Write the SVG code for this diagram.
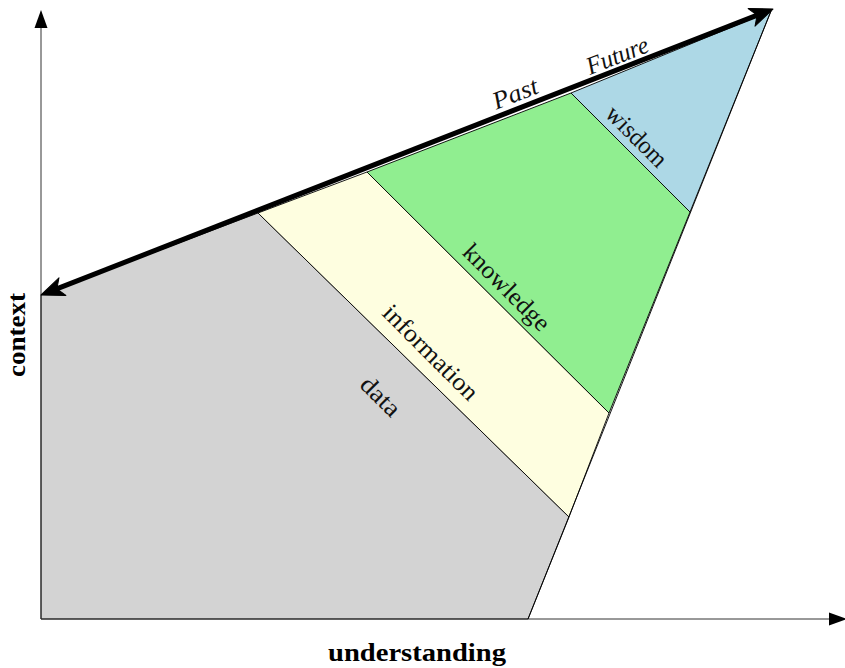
<svg xmlns="http://www.w3.org/2000/svg" width="845" height="668" viewBox="0 0 845 668">
<style>
.region{stroke:#000;stroke-width:0.9;stroke-linejoin:round}
.lbl{font-family:"Liberation Serif","Times New Roman",serif;font-size:25px;fill:#111;text-anchor:middle}
.it{font-style:italic}
.axl{font-family:"Liberation Serif","Times New Roman",serif;font-size:26px;font-weight:bold;fill:#000;text-anchor:middle}
.axis{stroke:#333;stroke-width:1;fill:none}
.time{stroke:#000;stroke-width:5;fill:none}
</style>
<defs>
<marker id="big" viewBox="-14 -12 28 24" markerWidth="28" markerHeight="24" refX="0" refY="0" markerUnits="userSpaceOnUse" orient="auto-start-reverse">
<path d="M12,0 L-11,-9.5 L-5,0 L-11,9.5 Z" fill="#000" stroke="#000" stroke-width="1" stroke-linejoin="round"/>
</marker>
<marker id="small" viewBox="-8 -8 22 16" markerWidth="22" markerHeight="16" refX="0" refY="0" markerUnits="userSpaceOnUse" orient="auto">
<path d="M12,0 L-6,-6.5 L-6,6.5 Z" fill="#000"/>
</marker>
</defs>
<g id="data">
<polygon class="region" fill="#d3d3d3" points="41,295 258,213 569,517 528,619 41,619"/>
<text class="lbl" transform="translate(381,396) rotate(45)" dy=".35em" textLength="46" lengthAdjust="spacingAndGlyphs">data</text>
</g>
<g id="information">
<polygon class="region" fill="#fefee0" points="258,213 367,172 609,413 569,517"/>
<text class="lbl" transform="translate(431,352) rotate(45)" dy=".35em" textLength="124" lengthAdjust="spacingAndGlyphs">information</text>
</g>
<g id="knowledge">
<polygon class="region" fill="#90ee90" points="367,172 571,93 690,212 609,413"/>
<text class="lbl" transform="translate(507,287) rotate(45)" dy=".35em" textLength="112" lengthAdjust="spacingAndGlyphs">knowledge</text>
</g>
<g id="wisdom">
<polygon class="region" fill="#add8e6" points="571,93 771,11 690,212"/>
<text class="lbl" transform="translate(637,136) rotate(45)" dy=".35em" textLength="76" lengthAdjust="spacingAndGlyphs">wisdom</text>
</g>
<g id="connectors">
<line class="axis" x1="41" y1="619" x2="41" y2="22" marker-end="url(#small)"/>
<line class="axis" x1="41" y1="619" x2="835" y2="619" marker-end="url(#small)"/>
<line class="time" x1="52.2" y1="290.6" x2="761.8" y2="13.4" marker-start="url(#big)" marker-end="url(#big)"/>
<line class="region" x1="528" y1="619" x2="771" y2="11"/>
</g>
<g id="labels">
<text class="lbl it" transform="translate(515,93) rotate(-21.3)" dy=".35em" textLength="47" lengthAdjust="spacingAndGlyphs">Past</text>
<text class="lbl it" transform="translate(617,55) rotate(-21.3)" dy=".35em" textLength="65" lengthAdjust="spacingAndGlyphs">Future</text>
<text class="axl" x="417" y="661" textLength="178" lengthAdjust="spacingAndGlyphs">understanding</text>
<text class="axl" transform="translate(25,335) rotate(-90)" textLength="84" lengthAdjust="spacingAndGlyphs">context</text>
</g>
</svg>
